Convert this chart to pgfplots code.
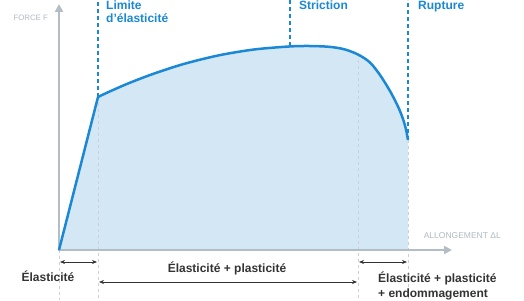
\documentclass[border=0pt]{standalone}
\usepackage{fontspec}
\setmainfont{Liberation Sans}
\usepackage{pgfplots}
\pgfplotsset{compat=1.18}
\usetikzlibrary{arrows.meta}
\definecolor{cblue}{HTML}{1A88D4}
\definecolor{cfill}{HTML}{D3E7F5}
\definecolor{cgray}{HTML}{B3BDC6}
\definecolor{cdot}{HTML}{C9D0D6}
\definecolor{ctext}{HTML}{333333}
\definecolor{clabel}{HTML}{B0B9C1}
\pgfplotstableread{
x y
39 153
50 158.2
70 166.9
95 176.4
125 186.1
160 194.7
195 200.5
230 203.5
250 204
270 203.2
285 200.8
299 195.5
311 187.5
321 175
331 159
339 143.5
344 131
347 120.5
349 110
}\plastic
\begin{document}
\begin{tikzpicture}
\begin{axis}[scale only axis, width=524pt, height=300pt,
  xmin=-59, xmax=465, ymin=-50, ymax=250, axis lines=none, clip=false]
% fill under elastic part
\addplot[fill=cfill, draw=none] coordinates {(0,0) (39,153)} \closedcycle;
% fill under plastic part
\addplot[fill=cfill, draw=none, smooth, tension=0.5] table {\plastic} \closedcycle;
% grey dotted guides
\draw[cdot, line width=0.6pt, dash pattern=on 3pt off 3pt] (axis cs:0,0) -- (axis cs:0,-50);
\draw[cdot, line width=0.6pt, dash pattern=on 3pt off 3pt] (axis cs:39,153) -- (axis cs:39,-50);
\draw[cdot, line width=0.6pt, dash pattern=on 3pt off 3pt] (axis cs:299,195.5) -- (axis cs:299,-50);
\draw[cdot, line width=0.6pt, dash pattern=on 3pt off 3pt] (axis cs:349,110) -- (axis cs:349,-50);
% axes
\draw[cgray, line width=2pt, -{Triangle[length=8pt,width=8pt]}] (axis cs:0,-1) -- (axis cs:0,246);
\draw[cgray, line width=2pt, -{Triangle[length=8pt,width=8pt]}] (axis cs:-1,0) -- (axis cs:393,0);
% curve
\addplot[cblue, line width=2.5pt, line join=round] coordinates {(0,0) (39,153)};
\addplot[cblue, line width=2.5pt, smooth, tension=0.5] table {\plastic};
% blue dashed markers
\draw[cblue, line width=1.2pt, dash pattern=on 4pt off 3pt] (axis cs:39,153) -- (axis cs:39,250);
\draw[cblue, line width=1.2pt, dash pattern=on 4pt off 3pt] (axis cs:231,203.5) -- (axis cs:231,250);
\draw[cblue, line width=1.2pt, dash pattern=on 4pt off 3pt] (axis cs:349,110) -- (axis cs:349,250);
% top labels
\node[anchor=base west, inner sep=0pt, text=cblue, font=\fontsize{12}{14}\selectfont\bfseries] at (axis cs:47,240.5) {Limite};
\node[anchor=base west, inner sep=0pt, text=cblue, font=\fontsize{12}{14}\selectfont\bfseries] at (axis cs:47,227) {d’élasticité};
\node[anchor=base west, inner sep=0pt, text=cblue, font=\fontsize{12}{14}\selectfont\bfseries] at (axis cs:240,240.5) {Striction};
\node[anchor=base west, inner sep=0pt, text=cblue, font=\fontsize{12}{14}\selectfont\bfseries] at (axis cs:359,240.5) {Rupture};
% axis labels
\node[anchor=base east, inner sep=0pt, text=clabel, font=\fontsize{7.8}{9}\selectfont] at (axis cs:-11,229) {FORCE F};
\node[anchor=base east, inner sep=0pt, text=clabel, font=\fontsize{8.5}{10}\selectfont] at (axis cs:442,12) {ALLONGEMENT ΔL};
% dimension arrows
\draw[ctext, line width=0.8pt, {Stealth[length=5pt,width=4pt]}-{Stealth[length=5pt,width=4pt]}] (axis cs:1,-12) -- (axis cs:38,-12);
\draw[ctext, line width=0.8pt, {Stealth[length=5pt,width=4pt]}-{Stealth[length=5pt,width=4pt]}] (axis cs:300,-12) -- (axis cs:348,-12);
\draw[ctext, line width=0.8pt, {Stealth[length=5pt,width=4pt]}-{Stealth[length=5pt,width=4pt]}] (axis cs:40,-32) -- (axis cs:298,-32);
% bottom labels
\node[anchor=base, inner sep=0pt, text=ctext, font=\fontsize{12}{14}\selectfont\bfseries] at (axis cs:-11,-31) {Élasticité};
\node[anchor=base, inner sep=0pt, text=ctext, font=\fontsize{12}{14}\selectfont\bfseries] at (axis cs:168,-22) {Élasticité + plasticité};
\node[anchor=base west, inner sep=0pt, text=ctext, font=\fontsize{12}{14}\selectfont\bfseries] at (axis cs:319,-32) {Élasticité + plasticité};
\node[anchor=base west, inner sep=0pt, text=ctext, font=\fontsize{12}{14}\selectfont\bfseries] at (axis cs:319,-47) {+ endommagement};
\end{axis}
\pgfresetboundingbox
\useasboundingbox (current axis.south west) rectangle (current axis.north east);
\end{tikzpicture}
\end{document}
